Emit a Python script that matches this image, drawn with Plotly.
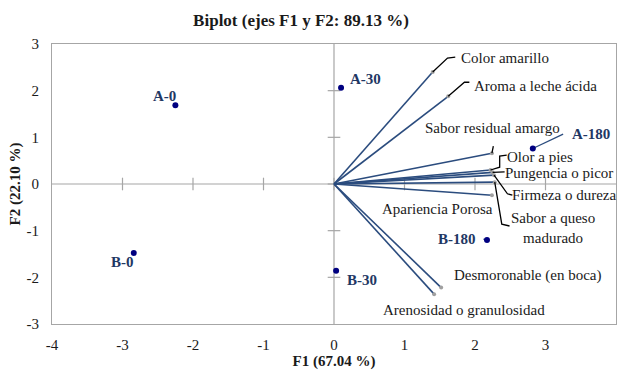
import plotly.graph_objects as go

# Observations (scores on F1, F2)
obs_names = ["A-0", "A-30", "A-180", "B-0", "B-30", "B-180"]
obs_f1 = [-2.25, 0.10, 2.82, -2.84, 0.03, 2.17]
obs_f2 = [1.69, 2.06, 0.76, -1.48, -1.86, -1.20]

# Sensory variables (loadings on F1, F2)
var_names = [
    "Color amarillo",
    "Aroma a leche ácida",
    "Sabor residual amargo",
    "Olor a pies",
    "Pungencia o picor",
    "Firmeza o dureza",
    "Sabor a queso<br>madurado",
    "Apariencia Porosa",
    "Desmoronable (en boca)",
    "Arenosidad o granulosidad",
]
var_f1 = [1.40, 1.62, 2.24, 2.22, 2.25, 2.27, 2.28, 2.24, 1.52, 1.42]
var_f2 = [2.40, 1.88, 0.66, 0.30, 0.25, 0.19, 0.04, -0.24, -2.22, -2.36]

# Axis ticks
x_ticks = [-4, -3, -2, -1, 0, 1, 2, 3, 4]
y_ticks = [-3, -2, -1, 0, 1, 2, 3]

# Label placement (text position + leader bend points, in axis units)
var_label_pos = [
    (2.42, 2.69), (2.86, 2.10), (2.25, 1.21), (2.92, 0.58), (3.19, 0.24),
    (3.26, -0.24), (3.10, -0.94), (1.47, -0.54), (2.75, -1.95), (1.85, -2.70),
]
var_leaders = [
    [(1.61, 2.70), (1.72, 2.72)],
    [(1.85, 2.18), (1.92, 2.18)],
    [(2.26, 0.81)],
    [(2.35, 0.36), (2.35, 0.60), (2.45, 0.62)],
    [(2.42, 0.26)],
    [(2.46, -0.21), (2.53, -0.24)],
    [(2.38, -0.86), (2.49, -0.90)],
    None,
    None,
    None,
]
obs_label_pos = [
    (-2.40, 1.88), (0.44, 2.25), (3.64, 1.07),
    (-3.00, -1.67), (0.39, -2.06), (1.74, -1.18),
]
obs_leaders = [None, None, [(3.25, 1.07)], None, None, [(2.12, -1.18)]]

FONT = "Liberation Serif, Times New Roman, serif"
VEC_COLOR = "#2B4C7E"
LBL_COLOR = "#1F3864"
PT_COLOR = "#000080"
AX_COLOR = "#A6A6A6"
TXT = "#1A1A1A"

fig = go.Figure()

# Zero axes with small cross ticks
fig.add_trace(go.Scatter(x=[x_ticks[0], x_ticks[-1]], y=[0, 0], mode="lines",
                         line=dict(color=AX_COLOR, width=1.2), hoverinfo="skip"))
fig.add_trace(go.Scatter(x=[0, 0], y=[y_ticks[0], y_ticks[-1]], mode="lines",
                         line=dict(color=AX_COLOR, width=1.2), hoverinfo="skip"))
fig.add_trace(go.Scatter(x=x_ticks[1:-1], y=[0] * (len(x_ticks) - 2), mode="markers",
                         marker=dict(symbol="line-ns", size=9,
                                     line=dict(color=AX_COLOR, width=1.2)),
                         hoverinfo="skip"))
fig.add_trace(go.Scatter(x=[0] * (len(y_ticks) - 2), y=y_ticks[1:-1], mode="markers",
                         marker=dict(symbol="line-ew", size=9,
                                     line=dict(color=AX_COLOR, width=1.2)),
                         hoverinfo="skip"))

# Variable vectors
vx, vy = [], []
for a, b in zip(var_f1, var_f2):
    vx += [0, a, None]
    vy += [0, b, None]
fig.add_trace(go.Scatter(x=vx, y=vy, mode="lines",
                         line=dict(color=VEC_COLOR, width=1.6), hoverinfo="skip"))
fig.add_trace(go.Scatter(x=var_f1, y=var_f2, mode="markers",
                         marker=dict(color="#A0A0A0", size=4), hoverinfo="skip"))

# Leader lines for variable labels
lx, ly = [], []
for a, b, pts in zip(var_f1, var_f2, var_leaders):
    if pts:
        lx += [a] + [p[0] for p in pts] + [None]
        ly += [b] + [p[1] for p in pts] + [None]
fig.add_trace(go.Scatter(x=lx, y=ly, mode="lines",
                         line=dict(color="black", width=1.3), hoverinfo="skip"))

# Leader lines for observation labels
ox, oy = [], []
for a, b, pts in zip(obs_f1, obs_f2, obs_leaders):
    if pts:
        ox += [a] + [p[0] for p in pts] + [None]
        oy += [b] + [p[1] for p in pts] + [None]
fig.add_trace(go.Scatter(x=ox, y=oy, mode="lines",
                         line=dict(color=VEC_COLOR, width=1.3), hoverinfo="skip"))

# Observation points
fig.add_trace(go.Scatter(x=obs_f1, y=obs_f2, mode="markers",
                         marker=dict(color=PT_COLOR, size=6), hoverinfo="skip"))

for name, (px, py) in zip(var_names, var_label_pos):
    fig.add_annotation(x=px, y=py, text=name, showarrow=False,
                       font=dict(family=FONT, size=15, color=TXT))
for name, (px, py) in zip(obs_names, obs_label_pos):
    fig.add_annotation(x=px, y=py, text="<b>%s</b>" % name, showarrow=False,
                       font=dict(family=FONT, size=15, color=LBL_COLOR))

fig.update_layout(
    width=620, height=373,
    margin=dict(l=52, r=4, t=44, b=49),
    paper_bgcolor="white", plot_bgcolor="white",
    showlegend=False,
    font=dict(family=FONT, size=15, color=TXT),
    title=dict(text="<b>Biplot (ejes F1 y F2: 89.13 %)</b>", x=301 / 620, xref="container",
               xanchor="center", y=1 - 20 / 373, yanchor="middle",
               font=dict(family=FONT, size=17, color=TXT)),
    xaxis=dict(range=[x_ticks[0], x_ticks[-1]], tickvals=x_ticks,
               ticktext=[str(v) for v in x_ticks], showgrid=False,
               zeroline=False, showline=True, mirror=True, linecolor=AX_COLOR,
               linewidth=1.2, ticks="", ticklabelstandoff=7,
               tickfont=dict(family=FONT, size=15, color=TXT),
               title=dict(text="<b>F1 (67.04 %)</b>", standoff=2,
                          font=dict(family=FONT, size=15, color=TXT))),
    yaxis=dict(range=[y_ticks[0], y_ticks[-1]], tickvals=y_ticks,
               ticktext=[str(v) for v in y_ticks], showgrid=False,
               zeroline=False, showline=True, mirror=True, linecolor=AX_COLOR,
               linewidth=1.2, ticks="", ticklabelstandoff=9,
               tickfont=dict(family=FONT, size=15, color=TXT),
               title=dict(text="<b>F2 (22.10 %)</b>", standoff=2,
                          font=dict(family=FONT, size=15, color=TXT))),
)

fig.write_html("out.html")
